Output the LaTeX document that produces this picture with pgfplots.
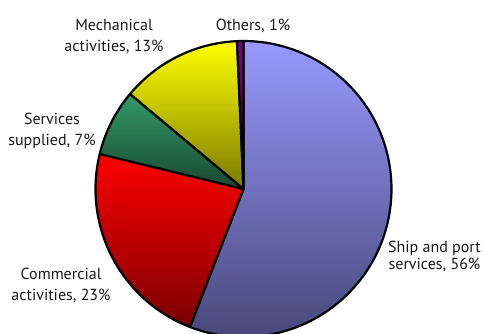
\documentclass[border=0pt]{standalone}
\usepackage{pgfplots}
\pgfplotsset{compat=1.18}
\usepgfplotslibrary{polar}
\usepackage{fontspec}
\setmainfont{PT Sans}
\definecolor{shipT}{RGB}{153,153,255}
\definecolor{shipB}{RGB}{72,72,122}
\definecolor{comT}{RGB}{255,0,0}
\definecolor{comB}{RGB}{122,0,0}
\definecolor{serT}{RGB}{51,153,102}
\definecolor{serB}{RGB}{24,72,48}
\definecolor{mecT}{RGB}{255,255,0}
\definecolor{mecB}{RGB}{122,122,0}
\definecolor{othT}{RGB}{128,0,128}
\definecolor{othB}{RGB}{64,0,64}
\begin{document}
\begin{tikzpicture}[x=1pt,y=1pt]
\path[use as bounding box] (0,0) rectangle (483,333);
\clip (0,0) rectangle (483,333);
% shares (%): Ship 55.9, Commercial 22.9, Services 7.3, Mechanical 13.2, Others 0.7
% slices run clockwise from 90 degrees; angle = share * 3.6
\begin{polaraxis}[hide axis, scale only axis, width=296pt, height=296pt,
  xmin=0, xmax=360, ymin=0, ymax=1, clip=false,
  at={(243.5pt,144pt)}, anchor=center, samples=150,
  every axis plot/.append style={draw=black, line width=2.2pt, line join=round}]
\addplot[top color=shipT, bottom color=shipB, domain=-111.24:90] {1} -- (axis cs:0,0) -- cycle;
\addplot[top color=comT, bottom color=comB, domain=166.32:248.76] {1} -- (axis cs:0,0) -- cycle;
\addplot[top color=serT, bottom color=serB, domain=140.04:166.32] {1} -- (axis cs:0,0) -- cycle;
\addplot[top color=mecT, bottom color=mecB, domain=92.52:140.04] {1} -- (axis cs:0,0) -- cycle;
\addplot[top color=othT, bottom color=othB, domain=90:92.52, samples=5] {1} -- (axis cs:0,0) -- cycle;
\end{polaraxis}
\begin{scope}[every node/.style={font=\fontsize{16}{20}\selectfont, inner sep=0pt, text=black!90}]
\node[anchor=base] at (114,302.3) {Mechanical};
\node[anchor=base] at (114,282) {activities, 13\%};
\node[anchor=base] at (253,302.3) {Others, 1\%};
\node[anchor=base] at (52,208.7) {Services};
\node[anchor=base] at (52,188) {supplied, 7\%};
\node[anchor=base] at (61,53.7) {Commercial};
\node[anchor=base] at (61,33) {activities, 23\%};
\node[anchor=base] at (434.5,80.7) {Ship and port};
\node[anchor=base] at (434.5,63.7) {services, 56\%};
\end{scope}
\end{tikzpicture}
\end{document}
